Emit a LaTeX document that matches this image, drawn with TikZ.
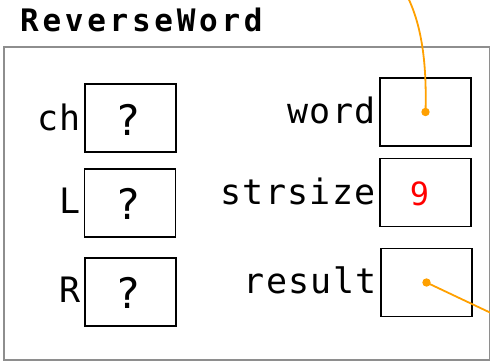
\documentclass[tikz,border=0pt]{standalone}
\usepackage{fontspec}
\usetikzlibrary{calc}
\newfontfamily\labelfont{DejaVu Sans Mono}[LetterSpace=4]
\newfontfamily\titlefont{DejaVu Sans Mono}[LetterSpace=12]
\newfontfamily\valfont{DejaVu Sans Mono}
\definecolor{ptrorange}{HTML}{FFA000}
\definecolor{framegray}{HTML}{8E8E8E}
\begin{document}
\begin{tikzpicture}[x=1pt,y=-1pt,
  varbox/.style={draw=black,line width=1.6pt,minimum width=91pt,minimum height=68pt,inner sep=0pt},
  varlabel/.style={anchor=base east,inner sep=0pt,font=\labelfont\fontsize{35}{40}\selectfont},
  qmark/.style={anchor=base,inner sep=0pt,font=\valfont\fontsize{42}{48}\selectfont},
  numval/.style={anchor=base,inner sep=0pt,text=red,font=\valfont\fontsize{32}{40}\selectfont},
  ptr/.style={draw=ptrorange,line width=1.8pt},
  ptrdot/.style={fill=ptrorange}]
\useasboundingbox (0,0) rectangle (490,362);
\clip (0,0) rectangle (490,362);
% frame and title
\node[draw=framegray,line width=2pt,minimum width=486pt,minimum height=313pt,inner sep=0pt,anchor=north west] (frame) at (2.5,45.5) {};
\node[anchor=base west,inner sep=0pt,font=\titlefont\bfseries\fontsize{31}{36}\selectfont] (title) at (20,31) {ReverseWord};
% left column
\node[varbox] (ch) at (130.5,118) {};
\node[varbox] (L) at (130,203) {};
\node[varbox] (R) at (130.5,292) {};
\node[varlabel] (chlab) at ($(ch.west)+(-3,12)$) {ch};
\node[varlabel] (Llab) at ($(L.west)+(-3,10)$) {L};
\node[varlabel] (Rlab) at ($(R.west)+(-3,10)$) {R};
\node[qmark] (chval) at ($(ch.center)+(-2,17)$) {?};
\node[qmark] (Lval) at ($(L.center)+(-2,16)$) {?};
\node[qmark] (Rval) at ($(R.center)+(-2,16)$) {?};
% right column
\node[varbox] (word) at (425.5,112) {};
\node[varbox] (strsize) at (425.5,192.5) {};
\node[varbox] (result) at (426.5,282.5) {};
\node[varlabel] (wordlab) at ($(word.west)+(-3,11)$) {word};
\node[varlabel] (strsizelab) at ($(strsize.west)+(-3,12)$) {strsize};
\node[varlabel] (resultlab) at ($(result.west)+(-3,11)$) {result};
\node[numval] (strsizeval) at ($(strsize.center)+(-6,12.5)$) {9};
% pointers
\coordinate (wordend) at (404,-10);
\coordinate (resultend) at (510,322);
\draw[ptr] (word.center) .. controls (427,60) and (421,20) .. (wordend);
\draw[ptr] (result.center) -- (resultend);
\fill[ptrdot] (word.center) circle (4.2);
\fill[ptrdot] (result.center) circle (4.2);
\end{tikzpicture}
\end{document}
